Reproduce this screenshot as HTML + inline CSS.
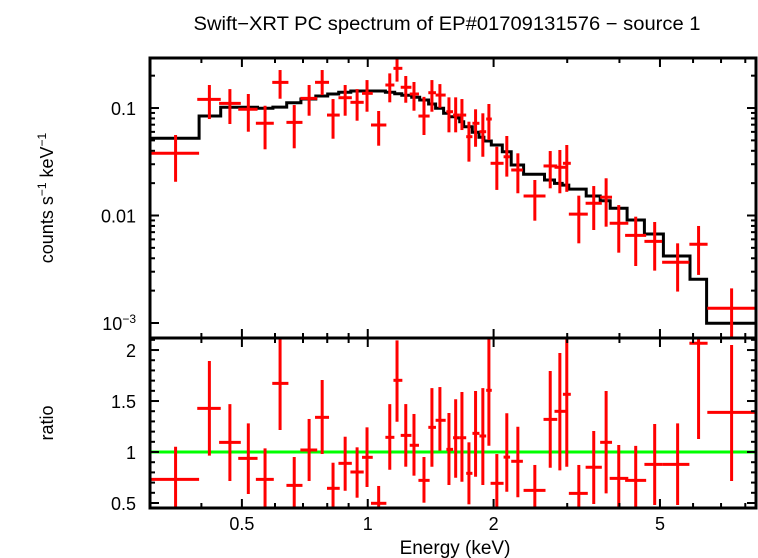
<!DOCTYPE html>
<html><head><meta charset="utf-8">
<style>
html,body{margin:0;padding:0;background:#fff;}
svg{display:block;font-family:"Liberation Sans",Arial,sans-serif;}
</style></head>
<body>
<svg id="chart" width="758" height="558" viewBox="0 0 758 558" xmlns="http://www.w3.org/2000/svg">
<text x="447" y="30" font-size="19" text-anchor="middle" textLength="507" lengthAdjust="spacingAndGlyphs">Swift−XRT PC spectrum of EP#01709131576 − source 1</text>
<g id="top"></g>
<g id="bot"></g>
<text transform="translate(53,198) rotate(-90)" font-size="18" text-anchor="middle">counts s<tspan dy="-7" font-size="12">−1</tspan><tspan dy="7"> keV</tspan><tspan dy="-7" font-size="12">−1</tspan></text>
<text transform="translate(53,423) rotate(-90)" font-size="18" text-anchor="middle">ratio</text>
<text x="455" y="554" font-size="19" text-anchor="middle">Energy (keV)</text>
</svg>
<script>
// ---- data ----
const binLo  = [0.300,0.391,0.441,0.490,0.540,0.591,0.639,0.690,0.748,0.799,0.851,0.909,0.969,1.018,1.102,1.152,1.199,1.260,1.322,1.396,1.453,1.542,1.600,1.660,1.720,1.780,1.850,1.920,1.967,2.113,2.204,2.359,2.633,2.797,2.930,3.027,3.320,3.597,3.790,4.127,4.590,5.060,5.880,6.490];
const binC   = [0.347,0.418,0.468,0.518,0.568,0.617,0.667,0.724,0.778,0.826,0.883,0.943,0.996,1.062,1.129,1.175,1.233,1.290,1.363,1.424,1.488,1.564,1.623,1.680,1.746,1.811,1.885,1.949,2.036,2.151,2.286,2.510,2.732,2.881,2.993,3.198,3.472,3.717,3.985,4.375,4.857,5.511,6.185,7.419];
const binHi  = [0.395,0.445,0.497,0.545,0.596,0.646,0.698,0.757,0.808,0.857,0.916,0.978,1.028,1.108,1.158,1.210,1.272,1.326,1.406,1.456,1.536,1.600,1.660,1.720,1.780,1.850,1.920,1.980,2.113,2.190,2.350,2.662,2.840,2.985,3.060,3.360,3.630,3.840,4.200,4.634,5.060,5.880,6.500,8.486];
const rate   = [0.0379,0.1205,0.1106,0.0973,0.0721,0.1734,0.0736,0.123,0.1734,0.086,0.1247,0.113,0.137,0.0695,0.1637,0.234,0.156,0.135,0.0842,0.1388,0.132,0.0924,0.086,0.086,0.0541,0.0721,0.0602,0.079,0.0306,0.0352,0.0265,0.0152,0.0289,0.0281,0.0306,0.0103,0.0130,0.0148,0.00846,0.00654,0.00575,0.00367,0.0054,0.00137];
const rateHi = [0.0561,0.1637,0.150,0.135,0.105,0.2257,0.1066,0.1637,0.2257,0.1212,0.1637,0.150,0.182,0.0938,0.210,0.300,0.1985,0.1746,0.127,0.182,0.167,0.1257,0.1257,0.1212,0.0746,0.0973,0.0893,0.109,0.0436,0.0549,0.0379,0.0214,0.0398,0.0407,0.0453,0.0153,0.0188,0.0222,0.0125,0.00975,0.0087,0.00551,0.00799,0.0021];
const rateLo = [0.0206,0.079,0.071,0.0602,0.0413,0.122,0.0422,0.0848,0.132,0.0518,0.0848,0.0762,0.0924,0.0446,0.113,0.176,0.112,0.0944,0.0561,0.0924,0.1006,0.0594,0.0594,0.0624,0.0317,0.0436,0.0352,0.0504,0.0173,0.023,0.0161,0.00895,0.0179,0.0161,0.0166,0.00551,0.00733,0.00787,0.00451,0.00339,0.00307,0.00196,0.0028,0.0005];
const ratio  = [0.732,1.428,1.095,0.938,0.732,1.673,0.673,1.02,1.34,0.644,0.889,0.804,0.948,0.497,1.144,1.703,1.163,1.066,0.722,1.242,1.311,1.026,1.14,1.14,0.791,1.183,1.157,1.605,0.693,0.95,0.909,0.624,1.32,1.399,1.566,0.595,0.85,1.095,0.742,0.722,0.879,0.879,2.066,1.389];
const ratioHi= [1.052,1.892,1.47,1.281,1.036,2.115,0.951,1.324,1.706,0.895,1.15,1.046,1.242,0.667,1.47,2.095,1.47,1.373,0.951,1.627,1.637,1.382,1.517,1.588,1.095,1.598,1.627,2.115,0.98,1.38,1.248,0.873,1.794,1.971,2.115,0.873,1.206,1.598,1.069,1.06,1.275,1.281,2.3,2.049];
const ratioLo= [0.40,0.964,0.716,0.588,0.40,1.216,0.40,0.716,0.98,0.40,0.62,0.552,0.657,0.40,0.826,1.297,0.856,0.768,0.503,0.856,1.013,0.676,0.748,0.709,0.487,0.758,0.676,1.062,0.40,0.61,0.556,0.40,0.846,0.82,0.856,0.40,0.49,0.595,0.40,0.40,0.48,0.48,1.127,0.716];
const modelEdges = [0.3014,0.395,0.445,0.545,0.593,0.640,0.692,0.751,0.802,0.852,0.911,1.102,1.160,1.206,1.274,1.331,1.398,1.453,1.519,1.564,1.629,1.659,1.696,1.779,1.845,1.896,1.975,2.098,2.204,2.359,2.647,2.797,2.919,3.027,3.331,3.597,3.801,4.173,4.590,5.095,5.901,6.464,8.486];
const modelVals  = [0.0523,0.0842,0.1015,0.0994,0.1021,0.1120,0.1213,0.1293,0.135,0.140,0.1439,0.140,0.136,0.1313,0.1257,0.1187,0.109,0.0994,0.0893,0.083,0.0807,0.0746,0.067,0.0594,0.0534,0.0493,0.0453,0.0392,0.0295,0.0242,0.0214,0.0199,0.0192,0.0176,0.0152,0.01373,0.01167,0.00908,0.00673,0.0042,0.00255,0.000994];
const xMajor = [0.5,1,2,5];
const xMajorLabels = ["0.5","1","2","5"];
const xMinor = [0.4,0.6,0.7,0.8,0.9,3,4,6,7,8];
const yTopMajor = [0.001,0.01,0.1];
const yRatioMajor = [0.5,1,1.5,2];
const yRatioLabels = ["0.5","1","1.5","2"];

// ---- axes ----
const L=150,R=756,T1=58,B1=338,T2=338,B2=508;
const xLogMin=Math.log10(0.3014), xLogMax=Math.log10(8.486);
const X=e=>L+(Math.log10(e)-xLogMin)/(xLogMax-xLogMin)*(R-L);
const yTopMin=Math.log10(0.000725), yTopMax=Math.log10(0.292);
const YT=v=>B1-(Math.log10(v)-yTopMin)/(yTopMax-yTopMin)*(B1-T1);
const rMin=0.451,rMax=2.118;
const YR=v=>B2-(v-rMin)/(rMax-rMin)*(B2-T2);
const NS="http://www.w3.org/2000/svg";
const svg=document.getElementById('chart');
const gT=document.getElementById('top'), gB=document.getElementById('bot');
function mk(tag,parent,attrs){const e=document.createElementNS(NS,tag);for(const k in attrs)e.setAttribute(k,attrs[k]);parent.appendChild(e);return e;}

const defs=mk('defs',svg,{});
const c1=mk('clipPath',defs,{id:'c1'});mk('rect',c1,{x:L,y:T1,width:R-L,height:B1-T1});
const c2=mk('clipPath',defs,{id:'c2'});mk('rect',c2,{x:L,y:T2,width:R-L,height:B2-T2});

let d='';
for(let i=0;i<modelVals.length;i++){
  const x0=X(modelEdges[i]),x1=X(modelEdges[i+1]),y=YT(modelVals[i]);
  d+=(i===0?'M':'L')+x0.toFixed(1)+' '+y.toFixed(1)+' L'+x1.toFixed(1)+' '+y.toFixed(1)+' ';
}
const model=mk('path',gT,{d:d,fill:'none',stroke:'#000','stroke-width':3,'clip-path':'url(#c1)'});



const gl=mk('line',gB,{x1:L,x2:R,y1:YR(1),y2:YR(1),stroke:'#00ff00','stroke-width':3});



for(let i=0;i<binC.length;i++){
  const gp=mk('g',gT,{'clip-path':'url(#c1)'});
  
  
  const xc=X(binC[i]);
  mk('line',gp,{x1:X(binLo[i]),x2:X(binHi[i]),y1:YT(rate[i]),y2:YT(rate[i]),stroke:'#ff0000','stroke-width':3});
  mk('line',gp,{x1:xc,x2:xc,y1:YT(rateHi[i]),y2:YT(rateLo[i]),stroke:'#ff0000','stroke-width':3});
  const gr=mk('g',gB,{'clip-path':'url(#c2)'});
  
  
  mk('line',gr,{x1:X(binLo[i]),x2:X(binHi[i]),y1:YR(ratio[i]),y2:YR(ratio[i]),stroke:'#ff0000','stroke-width':3});
  mk('line',gr,{x1:xc,x2:xc,y1:YR(ratioHi[i]),y2:YR(ratioLo[i]),stroke:'#ff0000','stroke-width':3});
}

const f1=mk('rect',gT,{x:L,y:T1,width:R-L,height:B1-T1,fill:'none',stroke:'#000','stroke-width':3});


const f2=mk('rect',gB,{x:L,y:T2,width:R-L,height:B2-T2,fill:'none',stroke:'#000','stroke-width':3});



function tk(p,x1,y1,x2,y2){mk('line',p,{x1:x1,y1:y1,x2:x2,y2:y2,stroke:'#000','stroke-width':2});}
xMajor.forEach(v=>{const x=X(v);tk(gT,x,T1,x,T1+9);tk(gT,x,B1,x,B1-9);tk(gB,x,T2,x,T2+9);tk(gB,x,B2,x,B2-9);});
xMinor.forEach(v=>{const x=X(v);tk(gT,x,T1,x,T1+5);tk(gT,x,B1,x,B1-5);tk(gB,x,T2,x,T2+5);tk(gB,x,B2,x,B2-5);});
xMajor.forEach((v,i)=>{
  const t=mk('text',gB,{x:X(v),y:530,'font-size':18,'text-anchor':'middle'});t.textContent=xMajorLabels[i];
  
  
});
yTopMajor.forEach(dec=>{
  for(let m=1;m<=9;m++){const v=dec*m;const y=YT(v);if(y<T1||y>B1)continue;const len=m===1?9:5;tk(gT,L,y,L+len,y);tk(gT,R,y,R-len,y);}
});
[["0.1",0.1],["0.01",0.01]].forEach(([s,v])=>{
  const t=mk('text',gT,{x:136,y:YT(v)+7,'font-size':18,'text-anchor':'end'});t.textContent=s;
  
  
});
const t3=mk('text',gT,{x:136,y:YT(0.001)+7,'font-size':18,'text-anchor':'end'});
t3.innerHTML='10<tspan dy="-7" font-size="12">−3</tspan>';


for(let k=5;k<=21;k++){const v=k/10;const y=YR(v);const len=(k%5===0)?9:5;tk(gB,L,y,L+len,y);tk(gB,R,y,R-len,y);}
yRatioMajor.forEach((v,i)=>{
  const t=mk('text',gB,{x:136,y:YR(v)+7,'font-size':18,'text-anchor':'end'});t.textContent=yRatioLabels[i];
  
  
});
</script>
</body></html>
